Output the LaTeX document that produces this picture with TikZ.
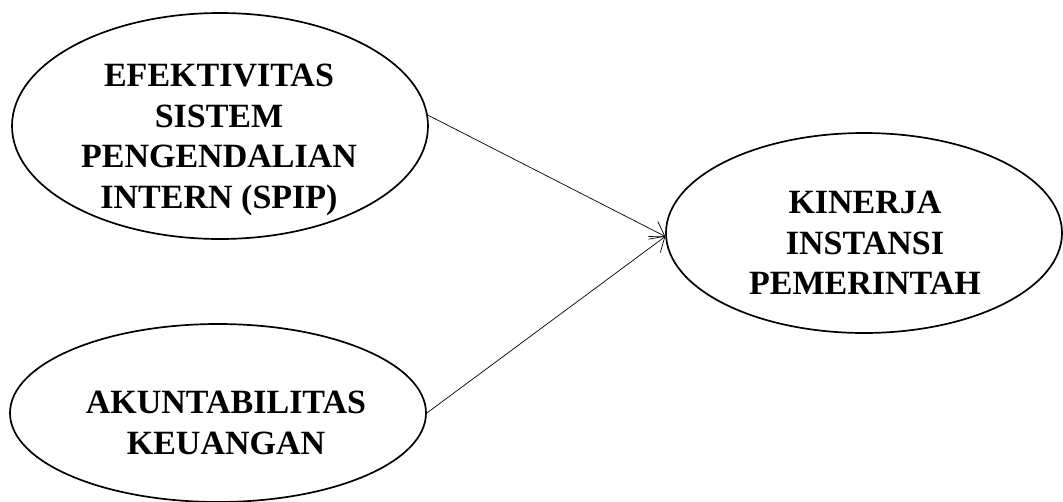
\documentclass[tikz,border=0pt]{standalone}
\usepackage{fontspec}
\setmainfont{Liberation Serif}
\usetikzlibrary{shapes.geometric,arrows.meta}
\tikzset{
  oval/.style={ellipse, draw=black, line width=1.7pt, inner sep=0pt},
  lbl/.style={align=center, inner sep=0pt, font=\fontsize{34}{40.5}\selectfont\bfseries},
  link/.style={line width=0.7pt, -{Straight Barb[length=13pt,width=20pt]}}
}
\begin{document}
\begin{tikzpicture}[x=1pt,y=-1pt]
\useasboundingbox (0,0) rectangle (1063,501);
\node[oval, minimum width=416pt, minimum height=226pt] (e1) at (220,126) {};
\node[oval, minimum width=416pt, minimum height=178pt] (e2) at (218,413) {};
\node[oval, minimum width=396pt, minimum height=200pt] (e3) at (864,233) {};
\node[lbl] (t1) at (219,140) {EFEKTIVITAS\\SISTEM\\PENGENDALIAN\\INTERN (SPIP)};
\node[lbl] (t2) at (226,423) {AKUNTABILITAS\\KEUANGAN};
\node[lbl] (t3) at (865,243) {KINERJA\\INSTANSI\\PEMERINTAH};
\draw[link] (e1.3.6) -- (e3.181.5);
\draw[link] (e2.east) -- (e3.181.5);
\end{tikzpicture}
\end{document}
